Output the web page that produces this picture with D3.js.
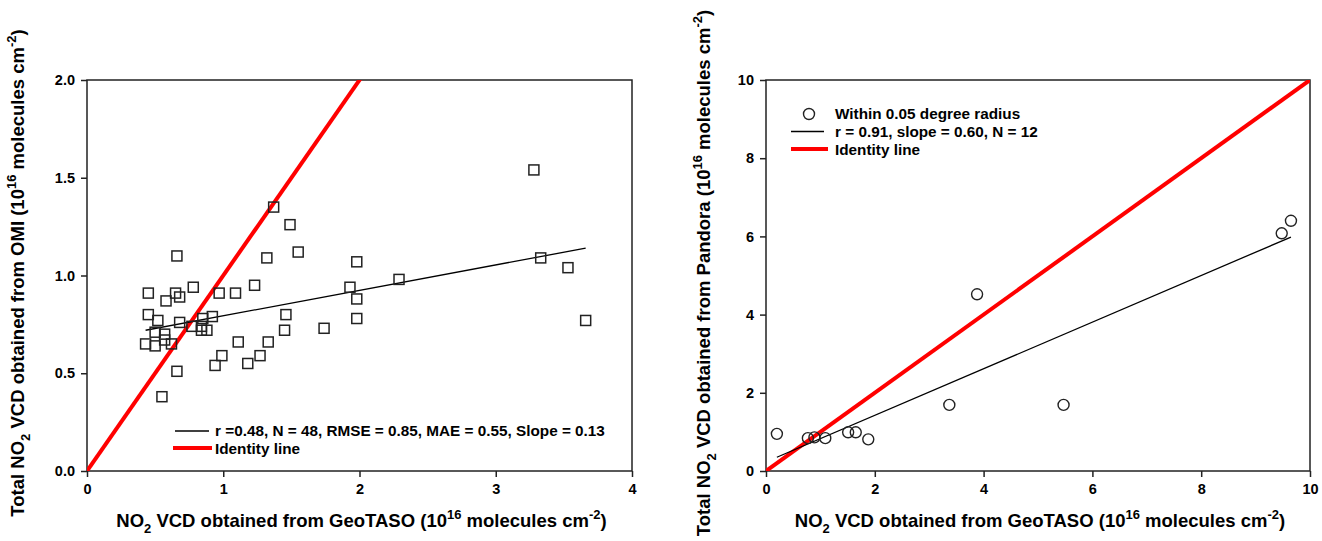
<!DOCTYPE html>
<html>
<head>
<meta charset="utf-8">
<script src="https://cdn.jsdelivr.net/npm/d3@7"></script>
<style>
  body { margin: 0; background: #fff; }
  svg text { font-family: "Liberation Sans", Arial, sans-serif; font-weight: bold; fill: #000; }
</style>
</head>
<body>
<div id="chart"></div>
<script>
// left panel : GeoTASO vs OMI
const omiX = [1.37, 1.49, 1.55, 1.32, 1.98, 0.66, 0.45, 0.65, 0.58, 0.68, 0.78, 0.97, 1.09, 1.23, 1.93, 1.98,
  1.98, 1.74, 1.46, 1.45, 0.45, 0.52, 0.68, 0.77, 0.84, 0.84, 0.88, 0.85, 0.92, 0.50, 0.57, 0.43,
  0.50, 0.57, 0.62, 1.11, 1.33, 0.99, 0.94, 1.18, 1.27, 0.66, 0.55, 3.28, 2.29, 3.33, 3.53, 3.66];
const omiY = [1.35, 1.26, 1.12, 1.09, 1.07, 1.10, 0.91, 0.91, 0.87, 0.89, 0.94, 0.91, 0.91, 0.95, 0.94, 0.88,
  0.78, 0.73, 0.80, 0.72, 0.80, 0.77, 0.76, 0.74, 0.74, 0.72, 0.72, 0.78, 0.79, 0.71, 0.70, 0.65,
  0.64, 0.67, 0.65, 0.66, 0.66, 0.59, 0.54, 0.55, 0.59, 0.51, 0.38, 1.54, 0.98, 1.09, 1.04, 0.77];
const omiFit = { slope: 0.13, intercept: 0.664 };
const omiLegend = ["r =0.48, N = 48, RMSE = 0.85, MAE = 0.55, Slope = 0.13", "Identity line"];
const omiXTicks = [0, 1, 2, 3, 4];
const omiYTicks = [0, 0.5, 1.0, 1.5, 2.0];

// right panel : GeoTASO vs Pandora
const panX = [0.20, 0.77, 0.89, 1.09, 1.51, 1.65, 1.88, 3.37, 3.88, 5.47, 9.48, 9.65];
const panY = [0.95, 0.84, 0.86, 0.84, 0.99, 0.99, 0.81, 1.69, 4.52, 1.69, 6.08, 6.40];
const panFit = { slope: 0.596, intercept: 0.232 };
const panLegend = ["Within 0.05 degree radius", "r = 0.91, slope = 0.60, N = 12", "Identity line"];
const panXTicks = [0, 2, 4, 6, 8, 10];
const panYTicks = [0, 2, 4, 6, 8, 10];

const W = 1322, H = 541;
const svg = d3.select("#chart").append("svg").attr("width", W).attr("height", H);

// title with sub / superscripts
function sciTitle(t, pre, post) {
  t.append("tspan").text(pre + "NO");
  t.append("tspan").text("2").attr("dy", 6).style("font-size", "13px");
  t.append("tspan").text(post + " (10").attr("dy", -6);
  t.append("tspan").text("16").attr("dy", -8).style("font-size", "13px");
  t.append("tspan").text(" molecules cm").attr("dy", 8);
  t.append("tspan").text("-2").attr("dy", -8).style("font-size", "13px");
  t.append("tspan").text(")").attr("dy", 8);
}

function drawPanel(o) {
  const x = d3.scaleLinear().domain(o.xDom).range([o.left, o.right]);
  const y = d3.scaleLinear().domain(o.yDom).range([o.bottom, o.top]);
  const g = svg.append("g");

  const cid = "clip" + o.left;
  g.append("clipPath").attr("id", cid).append("rect")
    .attr("x", o.left).attr("y", o.top).attr("width", o.right - o.left).attr("height", o.bottom - o.top);

  // frame
  g.append("rect").attr("x", o.left).attr("y", o.top)
    .attr("width", o.right - o.left).attr("height", o.bottom - o.top)
    .attr("fill", "none").attr("stroke", "#222").attr("stroke-width", 1.5);

  const xAxis = g.append("g").attr("transform", "translate(0," + o.bottom + ")")
    .call(d3.axisBottom(x).tickValues(o.xTicks).tickSize(6).tickFormat(d3.format("d")));
  const yAxis = g.append("g").attr("transform", "translate(" + o.left + ",0)")
    .call(d3.axisLeft(y).tickValues(o.yTicks).tickSize(6).tickFormat(d3.format(o.yFmt)));
  [xAxis, yAxis].forEach(a => {
    a.select(".domain").remove();
    a.selectAll("line").attr("stroke", "#222").attr("stroke-width", 1.5);
    a.selectAll("text").style("font-size", "14.5px").style("font-family", "Liberation Sans, Arial").style("font-weight", "bold");
  });
  xAxis.selectAll("text").attr("y", 13);
  yAxis.selectAll("text").attr("x", -12);

  // identity line
  g.append("line").attr("clip-path", "url(#" + cid + ")")
    .attr("x1", x(0)).attr("y1", y(0)).attr("x2", x(o.xDom[1])).attr("y2", y(o.xDom[1]))
    .attr("stroke", "#f00").attr("stroke-width", 4);

  // regression
  const x0 = d3.min(o.xs), x1 = d3.max(o.xs);
  g.append("line")
    .attr("x1", x(x0)).attr("y1", y(o.fit.intercept + o.fit.slope * x0))
    .attr("x2", x(x1)).attr("y2", y(o.fit.intercept + o.fit.slope * x1))
    .attr("stroke", "#000").attr("stroke-width", 1.3);

  // points
  const pts = o.xs.map((v, i) => [v, o.ys[i]]);
  if (o.marker === "square") {
    g.selectAll(".pt").data(pts).enter().append("rect")
      .attr("x", d => x(d[0]) - 5).attr("y", d => y(d[1]) - 5)
      .attr("width", 10).attr("height", 10)
      .attr("fill", "none").attr("stroke", "#222").attr("stroke-width", 1.5);
  } else {
    g.selectAll(".pt").data(pts).enter().append("circle")
      .attr("cx", d => x(d[0])).attr("cy", d => y(d[1])).attr("r", 5.5)
      .attr("fill", "none").attr("stroke", "#222").attr("stroke-width", 1.4);
  }

  const xt = g.append("text").attr("x", (o.left + o.right) / 2 + 2).attr("y", 527)
    .attr("text-anchor", "middle").style("font-size", "18.5px");
  sciTitle(xt, "", " VCD obtained from GeoTASO");

  const yt = g.append("text")
    .attr("transform", "translate(" + o.yTitleX + "," + o.yTitleY + ") rotate(-90)")
    .attr("text-anchor", "middle").style("font-size", "18.5px");
  sciTitle(yt, "Total ", " VCD obtained from " + o.source);

  return g;
}

const gL = drawPanel({
  left: 87, right: 632, top: 80, bottom: 471,
  xDom: [0, 4], yDom: [0, 2], xTicks: omiXTicks, yTicks: omiYTicks, yFmt: ".1f",
  xs: omiX, ys: omiY, fit: omiFit, marker: "square",
  source: "OMI", yTitleX: 23.5, yTitleY: 273
});
const gR = drawPanel({
  left: 766, right: 1310, top: 80, bottom: 471,
  xDom: [0, 10], yDom: [0, 10], xTicks: panXTicks, yTicks: panYTicks, yFmt: "d",
  xs: panX, ys: panY, fit: panFit, marker: "circle",
  source: "Pandora", yTitleX: 709.5, yTitleY: 273
});

// legends
function legLine(g, x1, x2, y, col, w) {
  g.append("line").attr("x1", x1).attr("x2", x2).attr("y1", y).attr("y2", y)
    .attr("stroke", col).attr("stroke-width", w);
}
function legText(g, x, y, s) {
  g.append("text").attr("x", x).attr("y", y).attr("dy", "0.35em").style("font-size", "15.3px").text(s);
}
legLine(gL, 175, 209, 431, "#000", 1.3);
legText(gL, 215, 431, omiLegend[0]);
legLine(gL, 173, 212, 448, "#f00", 4);
legText(gL, 215, 449, omiLegend[1]);

gR.append("circle").attr("cx", 809).attr("cy", 114).attr("r", 5.5)
  .attr("fill", "none").attr("stroke", "#222").attr("stroke-width", 1.4);
legText(gR, 835, 114, panLegend[0]);
legLine(gR, 791, 824, 131.5, "#000", 1.3);
legText(gR, 835, 132, panLegend[1]);
legLine(gR, 791, 828, 149, "#f00", 4);
legText(gR, 835, 150, panLegend[2]);
</script>
</body>
</html>
